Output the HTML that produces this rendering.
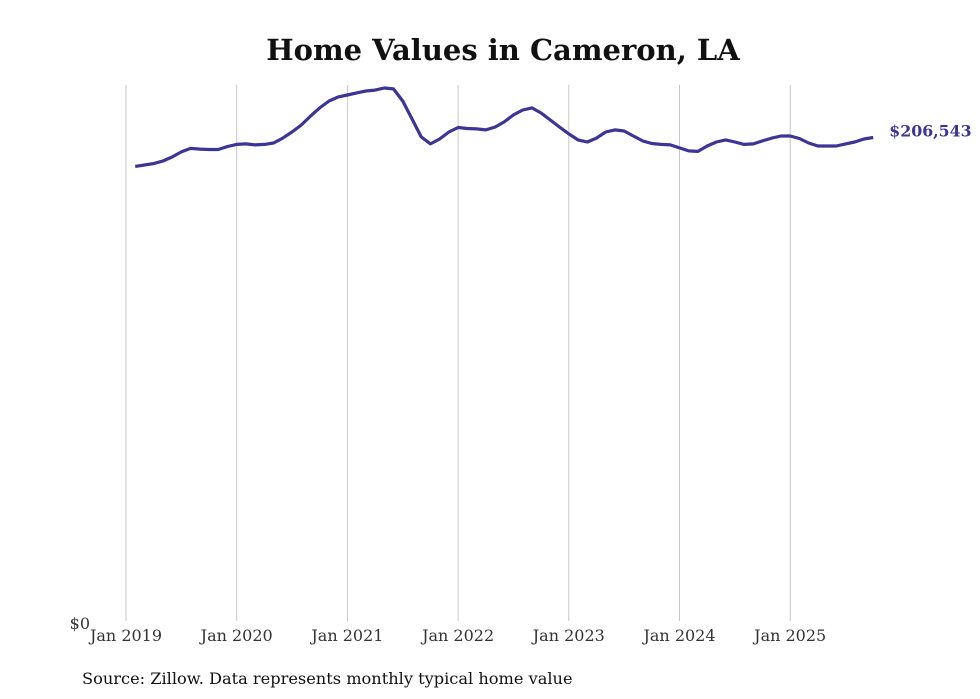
<!DOCTYPE html>
<html><head><meta charset="utf-8">
<style>
body{margin:0;background:#fff;}
svg{display:block;font-family:"DejaVu Serif","Liberation Serif",serif;}
</style></head>
<body>
<svg id="chart" width="980" height="699" viewBox="0 0 980 699">
<text x="503" y="60" text-anchor="middle" font-size="29" font-weight="bold" fill="#111">Home Values in Cameron, LA</text>
<g id="grid"></g>
<g id="xlabels"></g>
<text x="90" y="629" text-anchor="end" font-size="16" fill="#333">$0</text>
<path id="line" fill="none" stroke="#3b3597" stroke-width="3.2" stroke-linejoin="round"/>
<text id="endlabel" font-size="15.8" font-weight="bold" fill="#3b3597"></text>
<text x="82" y="684" font-size="16.2" fill="#111">Source: Zillow. Data represents monthly typical home value</text>
</svg>
<script>
// Monthly values (thousands USD), Feb 2019 .. Oct 2025
const values = [194.2,194.8,195.4,196.5,198.2,200.4,201.9,201.6,201.4,201.4,202.7,203.6,
203.8,203.4,203.6,204.2,206.3,208.9,211.9,215.7,219.2,222.1,223.9,224.7,
225.6,226.4,226.8,227.7,227.3,222.1,214.5,206.8,203.8,205.9,208.9,210.8,
210.4,210.2,209.8,211.0,213.2,216.2,218.3,219.2,217.0,214.0,211.0,208.1,
205.5,204.6,206.3,208.9,209.8,209.3,207.2,205.1,204.0,203.6,203.4,202.1,
200.8,200.6,202.9,204.6,205.5,204.6,203.6,203.8,205.1,206.3,207.2,207.2,
206.1,204.2,202.9,202.9,202.9,203.8,204.6,205.9,206.543];
const startMonth = 1; // months after Jan 2019
const tickYears = ["2019","2020","2021","2022","2023","2024","2025"];
const lastLabel = "$206,543";

const x0 = 126, pxPerMonth = 110.7/12, y0 = 621, pxPerK = 483.5/206.543;
const xs = m => x0 + m*pxPerMonth;
const ys = v => y0 - v*pxPerK;
const ns = "http://www.w3.org/2000/svg";
const grid = document.getElementById('grid'), xl = document.getElementById('xlabels');
tickYears.forEach((yr,i)=>{
  const x = xs(i*12);
  const l = document.createElementNS(ns,'line');
  l.setAttribute('x1',x);l.setAttribute('x2',x);l.setAttribute('y1',85);l.setAttribute('y2',621);
  l.setAttribute('stroke','#c8c8c8');l.setAttribute('stroke-width','1');
  
  
  grid.appendChild(l);
  const t = document.createElementNS(ns,'text');
  t.setAttribute('x',x);t.setAttribute('y',641);t.setAttribute('text-anchor','middle');
  t.setAttribute('font-size','16');t.setAttribute('fill','#333');
  t.textContent = 'Jan '+yr;
  
  
  xl.appendChild(t);
});
let d='';
values.forEach((v,i)=>{ d += (i?'L':'M')+xs(startMonth+i).toFixed(1)+','+ys(v).toFixed(1); });
document.getElementById('line').setAttribute('d',d);
const el = document.getElementById('endlabel');
const lastI = values.length-1;
el.setAttribute('x', xs(startMonth+lastI)+16);
el.setAttribute('y', ys(values[lastI])-1);
el.textContent = lastLabel;
</script>
</body></html>
